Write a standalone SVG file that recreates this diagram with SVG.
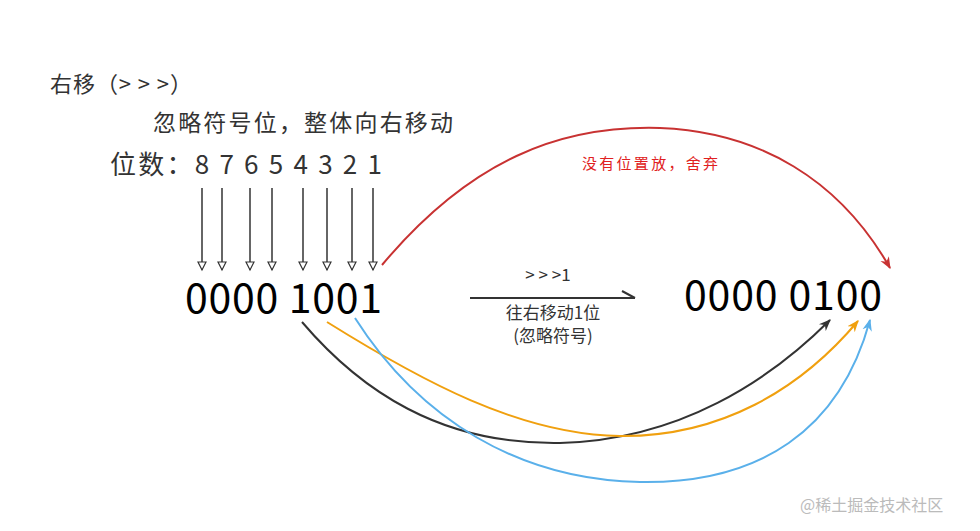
<svg xmlns="http://www.w3.org/2000/svg" width="980" height="531" viewBox="0 0 980 531">
<style>
text{font-family:"Noto Sans CJK SC","Noto Sans",sans-serif;fill:#333}
.big{font-size:41px;fill:#000}
.v{stroke:#333;stroke-width:1.5;fill:none;marker-end:url(#open)}
.c{fill:none;stroke-width:2}
</style>
<defs>
<marker id="open" viewBox="0 0 10 10" refX="9" refY="5" markerWidth="14" markerHeight="10" orient="auto" markerUnits="userSpaceOnUse"><path d="M1,1 L9,5 L1,9 Z" fill="#fff" stroke="#333" stroke-width="1.2"/></marker>
<marker id="r" viewBox="0 0 10 10" refX="9" refY="5" markerWidth="12" markerHeight="12" orient="auto" markerUnits="userSpaceOnUse"><path d="M0,1 L10,5 L0,9 L3,5 Z" fill="#c83232"/></marker>
<marker id="k" viewBox="0 0 10 10" refX="9" refY="5" markerWidth="12" markerHeight="12" orient="auto" markerUnits="userSpaceOnUse"><path d="M0,1 L10,5 L0,9 L3,5 Z" fill="#333"/></marker>
<marker id="o" viewBox="0 0 10 10" refX="9" refY="5" markerWidth="12" markerHeight="12" orient="auto" markerUnits="userSpaceOnUse"><path d="M0,1 L10,5 L0,9 L3,5 Z" fill="#f0a00f"/></marker>
<marker id="b" viewBox="0 0 10 10" refX="9" refY="5" markerWidth="12" markerHeight="12" orient="auto" markerUnits="userSpaceOnUse"><path d="M0,1 L10,5 L0,9 L3,5 Z" fill="#5ab0ea"/></marker>
</defs>
<g id="title"><text x="50" y="92" font-size="22" textLength="142">右移（&gt; &gt; &gt;）</text></g>
<g id="desc"><text x="153" y="131" font-size="23" textLength="300">忽略符号位，整体向右移动</text></g>
<g id="digits"><text x="110" y="174" font-size="26" textLength="272">位数：8 7 6 5 4 3 2 1</text></g>
<g id="src"><text x="185" y="313" class="big" textLength="197">0000 1001</text></g>
<g id="dst"><text x="684" y="310" class="big" textLength="198">0000 0100</text></g>
<g id="op">
<text x="548" y="281" font-size="17" text-anchor="middle">&gt; &gt; &gt;1</text>
<text x="553" y="319" font-size="17" text-anchor="middle">往右移动1位</text>
<text x="553" y="342" font-size="17" text-anchor="middle">(忽略符号)</text>
</g>
<g id="drop"><text x="582" y="169" font-size="15" style="fill:#e02020" textLength="136">没有位置放，舍弃</text></g>
<g id="connectors">
<line class="v" x1="202" y1="188" x2="202" y2="270"/>
<line class="v" x1="222" y1="188" x2="222" y2="270"/>
<line class="v" x1="250" y1="188" x2="250" y2="270"/>
<line class="v" x1="272" y1="188" x2="272" y2="270"/>
<line class="v" x1="303" y1="188" x2="303" y2="270"/>
<line class="v" x1="327" y1="188" x2="327" y2="270"/>
<line class="v" x1="352" y1="188" x2="352" y2="270"/>
<line class="v" x1="373" y1="188" x2="373" y2="270"/>
<path d="M470,298 H635 M622,291 L635,298" stroke="#333" stroke-width="2" fill="none"/>
<path class="c" stroke="#c83232" marker-end="url(#r)" d="M382,265 C470,160 560,125 660,128 C760,132 840,180 890,268"/>
<path class="c" stroke="#333" marker-end="url(#k)" d="M302,322 C360,390 440,445 560,443 C680,440 770,380 830,320"/>
<path class="c" stroke="#f0a00f" marker-end="url(#o)" d="M327,322 C420,380 520,435 620,436 C720,437 800,390 858,321"/>
<path class="c" stroke="#5ab0ea" marker-end="url(#b)" d="M355,318 C420,420 520,480 640,482 C760,484 840,430 870,320"/>
</g>
<g id="watermark"><text x="800" y="511" font-size="16" style="fill:#bbb">@稀土掘金技术社区</text></g>
</svg>
